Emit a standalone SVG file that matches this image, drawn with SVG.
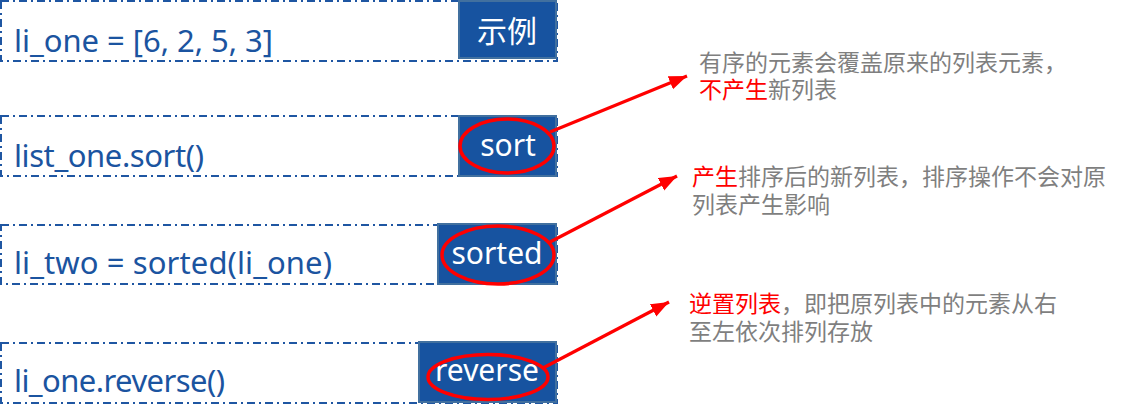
<svg xmlns="http://www.w3.org/2000/svg" width="1124" height="404" viewBox="0 0 1124 404">
<style>
.row{fill:none;stroke:#1f56a2;stroke-width:2;stroke-dasharray:8 4 2 4}
.code{font-family:"Noto Sans","Open Sans","Liberation Sans",sans-serif;font-size:31px;fill:#1b54a0}
.box{fill:#1753a0;stroke:#41709f;stroke-width:2}
.lbl{font-family:"Noto Sans","Noto Sans CJK SC",sans-serif;font-size:30px;fill:#ffffff;text-anchor:middle}
.cjk{font-family:"Noto Sans CJK SC",sans-serif}
.ring{fill:none;stroke:#ff0000;stroke-width:3.5}
.note{font-family:"Noto Sans CJK SC","Noto Sans",sans-serif;font-size:23px;fill:#7f7f7f}
.red{fill:#ff0000}
.conn{stroke:#ff0000;stroke-width:3.2;fill:none}
</style>
<defs>
<marker id="ah" markerUnits="userSpaceOnUse" markerWidth="20" markerHeight="16" refX="18" refY="7" orient="auto">
<path d="M0,0 L18,7 L0,14 Z" fill="#ff0000"/>
</marker>
</defs>
<rect width="1124" height="404" fill="#ffffff"/>
<g id="row-example">
<rect class="row" x="1" y="1" width="556" height="60"/>
<text class="code" x="14" y="52" textLength="259">li_one = [6, 2, 5, 3]</text>
<rect class="box" x="459" y="1" width="97" height="57"/>
<text class="lbl cjk" x="507" y="42">示例</text>
</g>
<g id="row-sort">
<rect class="row" x="1" y="116" width="556" height="60"/>
<text class="code" x="14" y="167" textLength="190">list_one.sort()</text>
<rect class="box" x="459" y="116" width="97" height="60"/>
<text class="lbl" x="508" y="156">sort</text>
<ellipse class="ring" cx="507" cy="146" rx="47" ry="27"/>
</g>
<g id="row-sorted">
<rect class="row" x="1" y="225" width="556" height="59"/>
<text class="code" x="14" y="274" textLength="318">li_two = sorted(li_one)</text>
<rect class="box" x="438" y="224" width="118" height="60"/>
<text class="lbl" x="497" y="264">sorted</text>
<ellipse class="ring" cx="498" cy="255" rx="56" ry="29"/>
</g>
<g id="row-reverse">
<rect class="row" x="1" y="343" width="556" height="60"/>
<text class="code" x="14" y="392" textLength="211">li_one.reverse()</text>
<rect class="box" x="419" y="342" width="137" height="60"/>
<text class="lbl" x="487" y="381">reverse</text>
<ellipse class="ring" cx="488" cy="377" rx="60" ry="22.5"/>
</g>
<g id="note-sort">
<text class="note" x="699" y="71">有序的元素会覆盖原来的列表元素，<tspan x="699" y="98" class="red">不产生</tspan><tspan>新列表</tspan></text>
</g>
<g id="note-sorted">
<text class="note" x="692" y="185"><tspan class="red">产生</tspan><tspan>排序后的新列表，排序操作不会对原</tspan><tspan x="692" y="213">列表产生影响</tspan></text>
</g>
<g id="note-reverse">
<text class="note" x="689" y="312"><tspan class="red">逆置列表</tspan><tspan>，即把原列表中的元素从右</tspan><tspan x="689" y="340">至左依次排列存放</tspan></text>
</g>
<g id="connectors">
<line class="conn" x1="550" y1="132" x2="687" y2="76" marker-end="url(#ah)"/>
<line class="conn" x1="550" y1="242" x2="677" y2="176" marker-end="url(#ah)"/>
<line class="conn" x1="543" y1="368" x2="669" y2="302" marker-end="url(#ah)"/>
</g>
</svg>
